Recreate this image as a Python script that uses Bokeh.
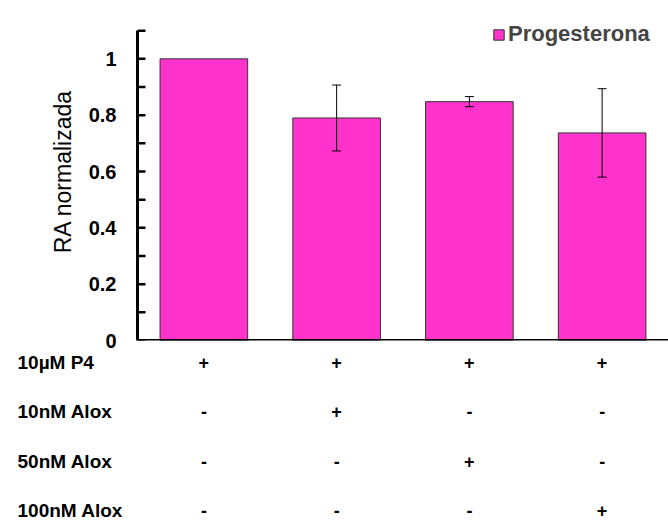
import numpy as np
from bokeh.plotting import figure
from bokeh.models import (FactorRange, Range1d, FixedTicker, Whisker, TeeHead,
                          ColumnDataSource, Span)
from bokeh.layouts import column, row
from bokeh.core.properties import value
from bokeh.embed import file_html
from bokeh.resources import INLINE

# ---------------- data ----------------
conditions = ["P4", "P4 + 10nM Alox", "P4 + 50nM Alox", "P4 + 100nM Alox"]
ra_mean = [1.0, 0.79, 0.848, 0.737]
ra_err = [np.nan, 0.117, 0.018, 0.157]
series_name = "Progesterona"

row_labels = ["10µM P4", "10nM Alox", "50nM Alox", "100nM Alox"]
row_marks = [
    ["+", "+", "+", "+"],
    ["-", "+", "-", "-"],
    ["-", "-", "+", "-"],
    ["-", "-", "-", "+"],
]

y_ticks = [0.0, 0.2, 0.4, 0.6, 0.8, 1.0]
y_tick_labels = ["0", "0.2", "0.4", "0.6", "0.8", "1"]
y_minor_ticks = [0.1, 0.3, 0.5, 0.7, 0.9, 1.1]
y_axis_max = 1.1
y_label = "RA normalizada"

# ---------------- styles ----------------
FONT = "Liberation Sans"
BAR_COLOR = "#FF33CC"
FRAME_W = 531

mean = np.array(ra_mean)
err = np.array(ra_err)
src = ColumnDataSource(dict(cond=conditions, mean=mean,
                            upper=mean + err, lower=mean - err))

x_range = FactorRange(factors=conditions)

p = figure(x_range=x_range, y_range=Range1d(0, 1.2),
           frame_width=FRAME_W, frame_height=338,
           min_border_top=2, min_border_left=137, min_border_right=0,
           min_border_bottom=10, x_axis_location=None,
           output_backend="svg", toolbar_location=None,
           outline_line_color=None, background_fill_color="white")

p.vbar(x="cond", top="mean", width=0.66, source=src,
       fill_color=BAR_COLOR, line_color="#333333", line_width=1,
       legend_label=series_name)

p.add_layout(Whisker(source=src, base="cond", upper="upper", lower="lower",
                     level="overlay", line_color="black", line_width=1,
                     upper_head=TeeHead(size=9, line_color="black", line_width=1),
                     lower_head=TeeHead(size=9, line_color="black", line_width=1)))

# inward tick marks on the value axis (frame left edge = synthetic x 0)
tick_vals = sorted(y_ticks + y_minor_ticks)
p.ray(x=0, y=tick_vals, length=8, length_units="screen", angle=0,
      line_color="black", line_width=2.5)

# category axis baseline
p.add_layout(Span(location=0, dimension="width", line_color="black",
                  line_width=3))

p.xgrid.grid_line_color = None
p.ygrid.grid_line_color = None

yax = p.yaxis[0]
yax.bounds = (0, y_axis_max)
yax.ticker = FixedTicker(ticks=y_ticks, minor_ticks=y_minor_ticks)
yax.major_label_overrides = {t: l for t, l in zip(y_ticks, y_tick_labels)}
yax.axis_line_width = 3
yax.axis_line_color = "black"
yax.major_tick_in = 0
yax.major_tick_out = 0
yax.minor_tick_in = 0
yax.minor_tick_out = 0
yax.major_label_text_font = FONT
yax.major_label_text_font_style = "bold"
yax.major_label_text_font_size = "20px"
yax.major_label_text_color = "black"
yax.major_label_standoff = 21
yax.axis_label = y_label
yax.axis_label_text_font = FONT
yax.axis_label_text_font_style = "normal"
yax.axis_label_text_font_size = "23px"
yax.axis_label_text_color = "black"
yax.axis_label_standoff = 10

lg = p.legend[0]
lg.location = (355, 293)
lg.padding = 0
lg.margin = 0
lg.border_line_color = None
lg.background_fill_alpha = 0
lg.label_text_font = FONT
lg.label_text_font_style = "bold"
lg.label_text_font_size = "22px"
lg.glyph_width = 13
lg.glyph_height = 13
lg.label_standoff = 3

# ---------------- condition table ----------------
tx, ty, tt = [], [], []
for i, marks in enumerate(row_marks):
    for j, m in enumerate(marks):
        tx.append(conditions[j])
        ty.append(i)
        tt.append(m)
tsrc = ColumnDataSource(dict(cond=tx, row=ty, mark=tt))

row_range = Range1d(3.243, -0.243)
TABLE_H = 172

t = figure(x_range=x_range, y_range=row_range,
           frame_width=FRAME_W, frame_height=TABLE_H,
           min_border_top=0, min_border_left=0, min_border_right=0,
           min_border_bottom=0,
           x_axis_location=None, y_axis_location=None,
           output_backend="svg", toolbar_location=None,
           outline_line_color=None, background_fill_color="white")
t.grid.grid_line_color = None
t.text(x="cond", y="row", text="mark", source=tsrc,
       text_font=value(FONT), text_font_style="bold", text_font_size="18px",
       text_align="center", text_baseline="middle", text_color="black")

lsrc = ColumnDataSource(dict(x=[0] * len(row_labels),
                             row=list(range(len(row_labels))),
                             label=row_labels))
lf = figure(x_range=Range1d(0, 1), y_range=row_range,
            frame_width=120, frame_height=TABLE_H,
            min_border_top=0, min_border_left=17, min_border_right=0,
            min_border_bottom=0,
            x_axis_location=None, y_axis_location=None,
            output_backend="svg", toolbar_location=None,
            outline_line_color=None, background_fill_color="white")
lf.grid.grid_line_color = None
lf.text(x="x", y="row", text="label", source=lsrc,
        text_font=value(FONT), text_font_style="bold", text_font_size="19px",
        text_align="left", text_baseline="middle", text_color="black")

layout = column(p, row(lf, t, spacing=0), spacing=0)
open("out.html", "w").write(file_html(layout, INLINE))
